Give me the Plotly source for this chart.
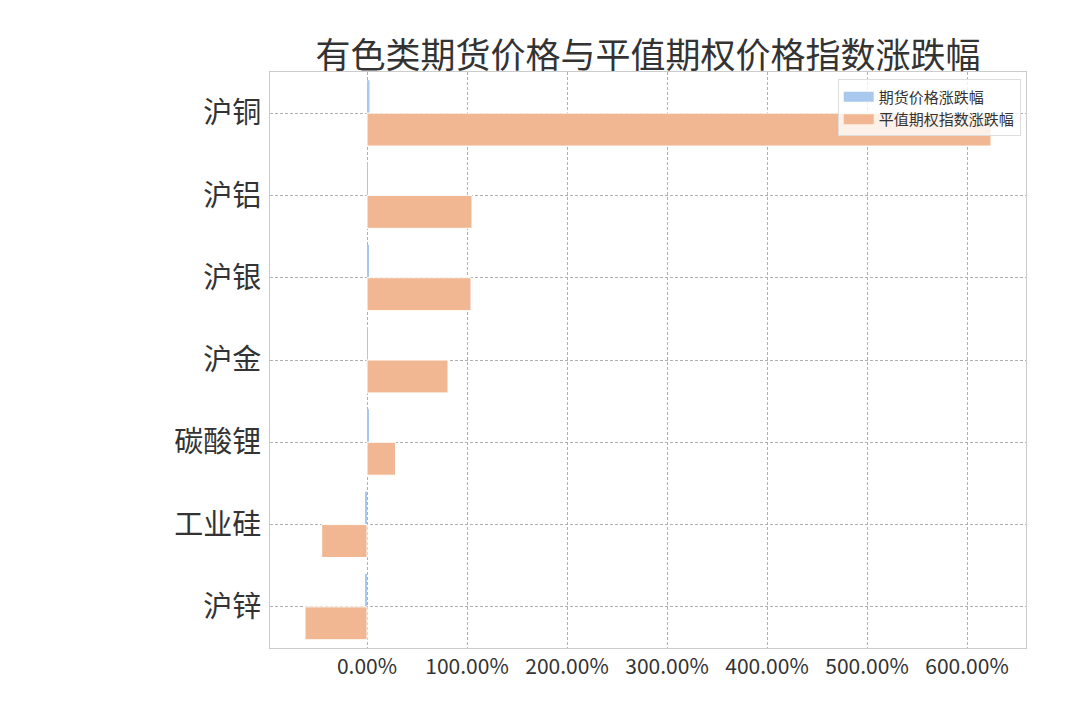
import plotly.graph_objects as go

# 品种 (top to bottom)
categories = ["沪铜", "沪铝", "沪银", "沪金", "碳酸锂", "工业硅", "沪锌"]
# 期货价格涨跌幅 (%)
futures_chg = [2.5, 0.6, 1.2, 0.2, 1.5, -2.0, -1.5]
# 平值期权指数涨跌幅 (%)
option_chg = [624.0, 105.0, 104.0, 81.0, 28.5, -45.3, -62.0]

series_names = ["期货价格涨跌幅", "平值期权指数涨跌幅"]
series_colors = ["#a9c8ee", "#f0b792"]

font_cjk = "Noto Sans CJK SC, Noto Sans, sans-serif"
grid_dash = "3px,2px"

fig = go.Figure()

fig.add_trace(go.Bar(
    y=categories,
    x=futures_chg,
    orientation="h",
    name=series_names[0],
    marker=dict(color=series_colors[0], line=dict(width=0)),
    showlegend=False,
))

fig.add_trace(go.Bar(
    y=categories,
    x=option_chg,
    orientation="h",
    name=series_names[1],
    marker=dict(color=series_colors[1], line=dict(color="white", width=1)),
    showlegend=False,
))

# legend entries with wide rectangular patches like matplotlib
for name, color in zip(series_names, series_colors):
    fig.add_trace(go.Scatter(
        x=[None], y=[None],
        mode="lines",
        name=name,
        line=dict(color=color, width=10),
        hoverinfo="skip",
    ))

fig.update_layout(
    width=1080,
    height=720,
    barmode="group",
    bargap=0.2,
    bargroupgap=0,
    title=dict(
        text="有色类期货价格与平值期权价格指数涨跌幅",
        x=0.5926, xanchor="center",
        y=0.934, yanchor="middle",
        font=dict(family=font_cjk, size=35, color="#333333"),
    ),
    margin=dict(l=262, r=62, t=64, b=80),
    plot_bgcolor="white",
    paper_bgcolor="white",
    font=dict(family=font_cjk, color="#333333"),
    showlegend=True,
    legend=dict(
        x=0.993, y=0.987,
        xanchor="right", yanchor="top",
        bgcolor="rgba(255,255,255,0.8)",
        bordercolor="#dddddd",
        borderwidth=1,
        font=dict(family=font_cjk, size=15, color="#333333"),
        tracegroupgap=0,
        itemwidth=30,
    ),
    xaxis=dict(
        range=[-97, 659],
        tick0=0,
        dtick=100,
        tickformat=".2f",
        ticksuffix="%",
        showgrid=True,
        gridcolor="#b0b0b0",
        griddash=grid_dash,
        gridwidth=0.8,
        zeroline=False,
        showline=True,
        linecolor="#cccccc",
        linewidth=1,
        mirror=True,
        ticks="",
        tickfont=dict(family=font_cjk, size=21, color="#333333"),
    ),
    yaxis=dict(
        autorange="reversed",
        showgrid=True,
        gridcolor="#b0b0b0",
        griddash=grid_dash,
        gridwidth=0.8,
        showline=True,
        linecolor="#cccccc",
        linewidth=1,
        mirror=True,
        ticks="",
        ticklabelstandoff=2,
        tickfont=dict(family=font_cjk, size=29, color="#333333"),
    ),
)

fig.write_html("out.html")
